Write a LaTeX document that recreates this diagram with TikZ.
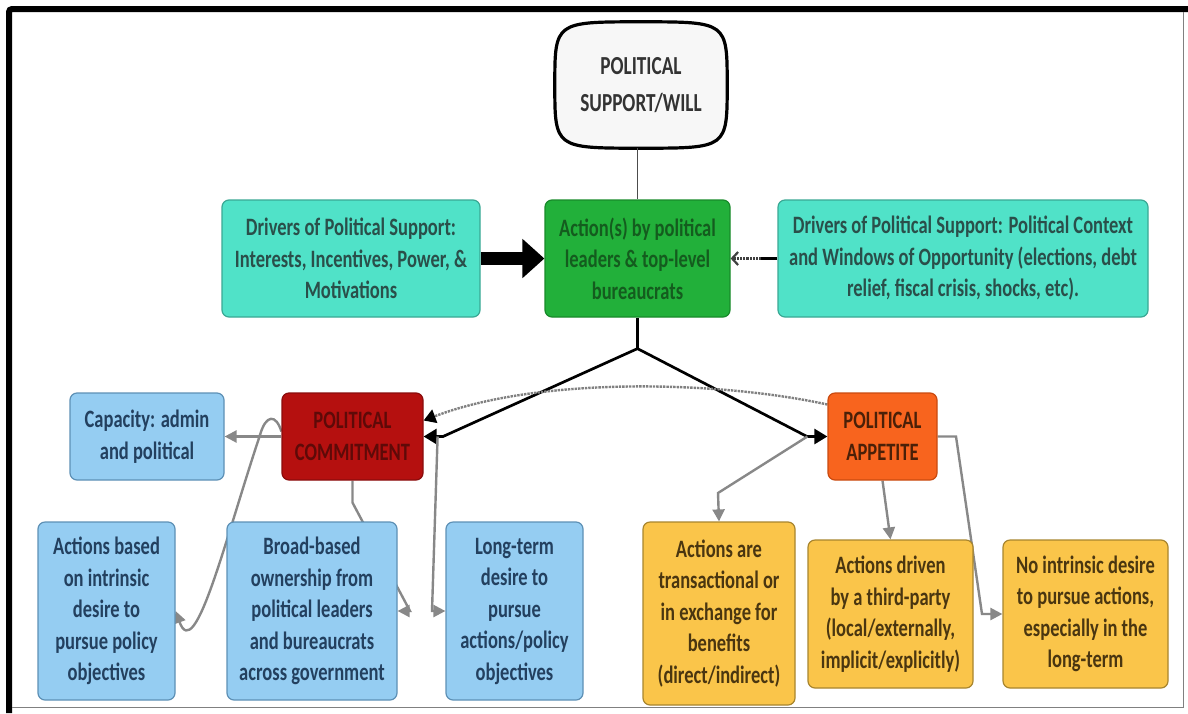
\documentclass[tikz,border=0pt]{standalone}
\usepackage{fontspec}
\setmainfont[FakeStretch=0.74]{Carlito}
\usetikzlibrary{arrows.meta,backgrounds}

\definecolor{tealfill}{HTML}{50E2C8}
\definecolor{tealline}{HTML}{3AA894}
\definecolor{tealtext}{HTML}{2A4F4A}
\definecolor{greenfill}{HTML}{22B03A}
\definecolor{greenline}{HTML}{188A2A}
\definecolor{greentext}{HTML}{145C1E}
\definecolor{redfill}{HTML}{B5100F}
\definecolor{redline}{HTML}{8A0C0C}
\definecolor{redtext}{HTML}{5E0A08}
\definecolor{orangefill}{HTML}{F8641E}
\definecolor{orangeline}{HTML}{C94A10}
\definecolor{orangetext}{HTML}{4A2008}
\definecolor{bluefill}{HTML}{95CDF2}
\definecolor{blueline}{HTML}{5D90B5}
\definecolor{bluetext}{HTML}{23405F}
\definecolor{yellowfill}{HTML}{FAC54A}
\definecolor{yellowline}{HTML}{A8852E}
\definecolor{yellowtext}{HTML}{4A3610}
\definecolor{conngray}{HTML}{888888}

\begin{document}
\begin{tikzpicture}[x=1pt,y=-1pt,
  box/.style={rounded corners=7pt, line width=1.2pt, inner sep=0pt, align=center,
    font=\fontsize{25}{31.5}\selectfont\bfseries},
  teal/.style={box, fill=tealfill, draw=tealline, text=tealtext},
  greenbox/.style={box, fill=greenfill, draw=greenline, text=greentext},
  redbox/.style={box, fill=redfill, draw=redline, text=redtext},
  orangebox/.style={box, fill=orangefill, draw=orangeline, text=orangetext},
  bluebox/.style={box, fill=bluefill, draw=blueline, text=bluetext},
  yellowbox/.style={box, fill=yellowfill, draw=yellowline, text=yellowtext},
  gcon/.style={draw=conngray, line width=2.4pt, -{Triangle[length=12pt,width=12pt]}},
  bcon/.style={draw=black, line width=2.7pt, -{Triangle[length=13pt,width=15pt]}},
]
\useasboundingbox (0,0) rectangle (1188,713);

% frame
\draw[line width=6pt, rounded corners=3pt] (9,713) -- (9,9) -- (1188,9);
\draw[gray, line width=1pt] (12,707) -- (1183,707) -- (1183,12);

% top node (its squircle outline is drawn on the background layer)
\node[minimum width=172pt, minimum height=126pt, align=center, text=black!80,
  font=\fontsize{26}{37}\selectfont\bfseries] (top) at (641,85) {POLITICAL\\SUPPORT/WILL};

% second row
\node[greenbox, minimum width=185pt, minimum height=117pt] (act) at (637.5,258.5)
  {Action(s) by political\\leaders \& top-level\\bureaucrats};
\node[teal, minimum width=258pt, minimum height=117pt] (drvl) at (351,258.5)
  {Drivers of Political Support:\\Interests, Incentives, Power, \&\\Motivations};
\node[teal, minimum width=370pt, minimum height=117pt] (drvr) at (963,258.5)
  {Drivers of Political Support: Political Context\\and Windows of Opportunity (elections, debt\\relief, fiscal crisis, shocks, etc).};

% third row
\node[redbox, minimum width=141pt, minimum height=87pt] (com) at (352.5,436.5)
  {POLITICAL\\COMMITMENT};
\node[orangebox, minimum width=109pt, minimum height=87pt] (app) at (882.5,436.5)
  {POLITICAL\\APPETITE};
\node[bluebox, minimum width=154pt, minimum height=87pt] (cap) at (147,436.5)
  {Capacity: admin\\and political};

% bottom row, commitment side
\node[bluebox, minimum width=137pt, minimum height=178pt] (intr) at (106.5,611)
  {Actions based\\on intrinsic\\desire to\\pursue policy\\objectives};
\node[bluebox, minimum width=170pt, minimum height=178pt] (broad) at (312,611)
  {Broad-based\\ownership from\\political leaders\\and bureaucrats\\across government};
\node[bluebox, minimum width=137pt, minimum height=178pt] (long) at (514.5,611)
  {Long-term\\desire to\\pursue\\actions/policy\\objectives};

% bottom row, appetite side
\node[yellowbox, minimum width=152pt, minimum height=183pt] (trans) at (719,613.5)
  {Actions are\\transactional or\\in exchange for\\benefits\\(direct/indirect)};
\node[yellowbox, minimum width=165pt, minimum height=148pt] (third) at (890.5,614)
  {Actions driven\\by a third-party\\(local/externally,\\implicit/explicitly)};
\node[yellowbox, minimum width=165pt, minimum height=148pt] (noint) at (1085.5,614)
  {No intrinsic desire\\to pursue actions,\\especially in the\\long-term};

\begin{scope}[on background layer]
  % squircle outline of the top node
  \draw[line width=3.2pt, fill=black!3]
    (top.north) .. controls (top.north east) and (top.north east) .. (top.east)
    .. controls (top.south east) and (top.south east) .. (top.south)
    .. controls (top.south west) and (top.south west) .. (top.west)
    .. controls (top.north west) and (top.north west) .. (top.north) -- cycle;

  % upper links
  \draw[black!70, line width=1.3pt] (act.north |- top.south) -- (act.north);
  \draw[line width=13pt, -{Triangle[length=22pt,width=38pt]}] (drvl.east) -- (act.west);
  \draw[line width=3.5pt] (drvr.west) -- ++(-16,0) coordinate (dotstart);
  \draw[black!75, densely dotted, line width=2.2pt, -{Straight Barb[length=6pt,width=13pt]}]
    (dotstart) -- (act.east);

  % fork to commitment and appetite
  \draw[black, line width=2.7pt] (act.south) -- ++(0,31) coordinate (fork);
  \draw[bcon] (fork) -- (443,436.5) -- (com.east);
  \draw[bcon] (fork) -- (807,436.5) -- (app.west);
  \draw[draw=gray, densely dotted, line width=2.4pt,
    -{Triangle[length=12pt,width=14pt,fill=black,color=black]}]
    ([yshift=32pt]app.west) .. controls (720,381) and (540,376) .. ([yshift=16pt]com.east);

  % commitment branches
  \draw[gcon] (com.west) -- (cap.east);
  \draw[gcon] ([yshift=5pt]com.west) .. controls (276,414) and (266,414) .. (260,435)
    .. controls (225,540) and (195,665) .. (intr.east);
  \draw[gcon] (com.south) -- ++(0,22) -- (410,611) -- (broad.east);
  \draw[gcon] ([xshift=14pt]com.east) coordinate (lstart) -- (432,611) -- (long.west);

  % appetite branches
  \draw[gcon] ([xshift=-20pt]app.west) -- (718,493) -- (trans.north);
  \draw[gcon] (app.south) -- (third.north);
  \draw[gcon] (app.east) -- (956,436.5) -- (982,614) -- (noint.west);
\end{scope}
\end{tikzpicture}
\end{document}
